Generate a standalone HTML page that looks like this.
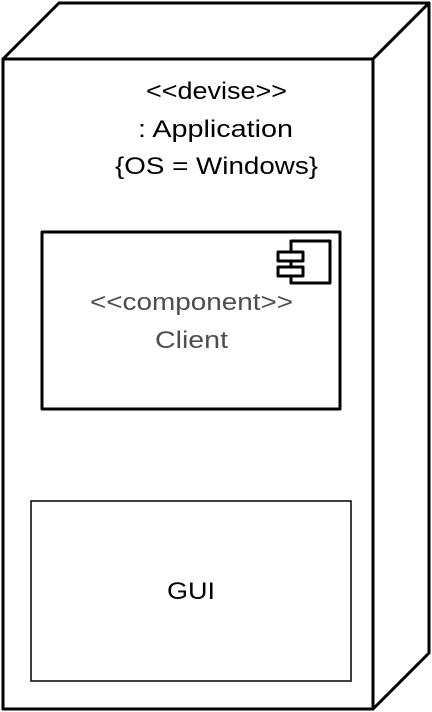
<!DOCTYPE html>
<html><head><style>html,body{margin:0;padding:0;background:#fff;}</style></head>
<body>
<svg width="432" height="712" xmlns="http://www.w3.org/2000/svg" style="display:block">
<g fill="#fff" stroke="#000" stroke-width="3" stroke-linejoin="round">
<rect x="3" y="59" width="370" height="650"/>
<polygon points="3,59 59,3 429,3 373,59"/>
<polygon points="373,59 429,3 429,653 373,709"/>
<rect x="42" y="232" width="298" height="177"/>
<rect x="291" y="241" width="39" height="42"/>
<rect x="278" y="252" width="25" height="9"/>
<rect x="278" y="267" width="25" height="9"/>
</g>
<rect x="31" y="501" width="320" height="180" fill="#fff" stroke="#000" stroke-width="1.5"/>
<g font-family="Liberation Sans, sans-serif" font-size="24" lengthAdjust="spacingAndGlyphs">
<text x="146" y="99" textLength="141" lengthAdjust="spacingAndGlyphs">&lt;&lt;devise&gt;&gt;</text>
<text x="138" y="137" textLength="155" lengthAdjust="spacingAndGlyphs">: Application</text>
<text x="115" y="174" textLength="203" lengthAdjust="spacingAndGlyphs">{OS = Windows}</text>
<text x="90" y="310" fill="#4d4d4d" textLength="203" lengthAdjust="spacingAndGlyphs">&lt;&lt;component&gt;&gt;</text>
<text x="155" y="348" fill="#4d4d4d" textLength="73" lengthAdjust="spacingAndGlyphs">Client</text>
<text x="167" y="599" textLength="48" lengthAdjust="spacingAndGlyphs">GUI</text>
</g>
</svg>
</body></html>
